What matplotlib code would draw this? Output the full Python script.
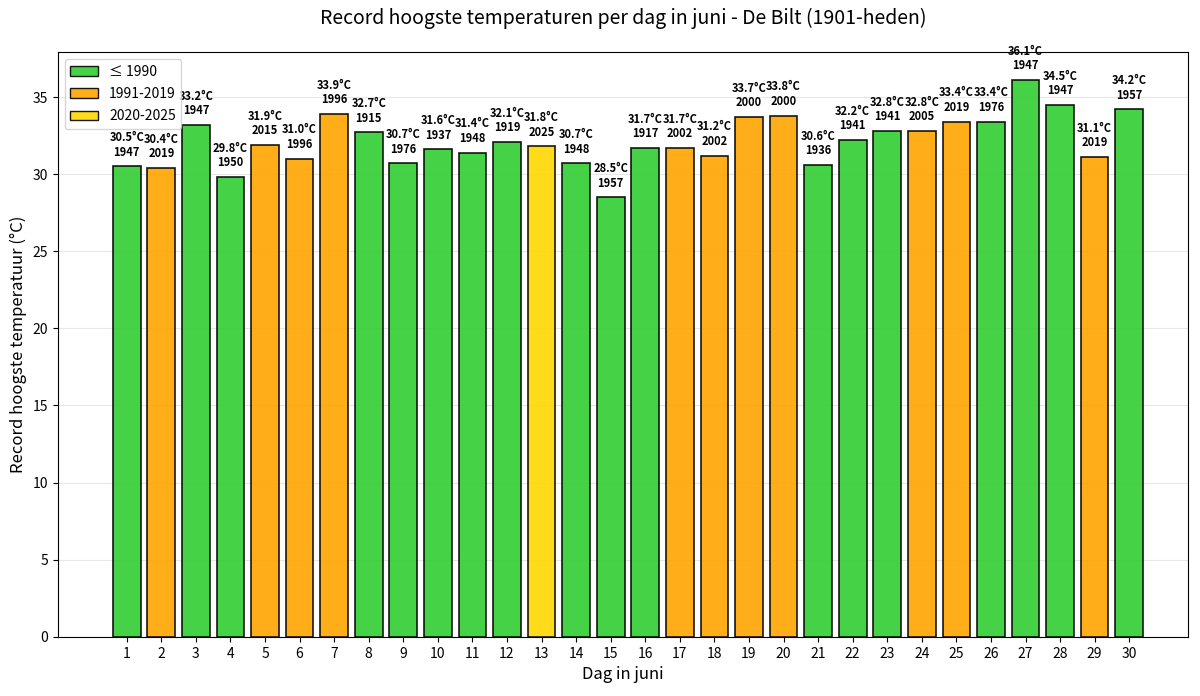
import matplotlib
matplotlib.use("Agg")
import matplotlib.pyplot as plt
from matplotlib.patches import Patch

plt.rcParams['font.family'] = ['Noto Sans CJK JP', 'DejaVu Sans']

days = list(range(1, 31))
temps = [30.5, 30.4, 33.2, 29.8, 31.9, 31.0, 33.9, 32.7, 30.7, 31.6,
         31.4, 32.1, 31.8, 30.7, 28.5, 31.7, 31.7, 31.2, 33.7, 33.8,
         30.6, 32.2, 32.8, 32.8, 33.4, 33.4, 36.1, 34.5, 31.1, 34.2]
years = [1947, 2019, 1947, 1950, 2015, 1996, 1996, 1915, 1976, 1937,
         1948, 1919, 2025, 1948, 1957, 1917, 2002, 2002, 2000, 2000,
         1936, 1941, 1941, 2005, 2019, 1976, 1947, 1947, 2019, 1957]

period_labels = ['≤ 1990', '1991-2019', '2020-2025']
period_colors = ['limegreen', 'orange', 'gold']


def color_for(year):
    if year <= 1990:
        return period_colors[0]
    if year <= 2019:
        return period_colors[1]
    return period_colors[2]


fig, ax = plt.subplots(figsize=(12, 6.96), dpi=100)
fig.subplots_adjust(left=0.048, right=0.99, bottom=0.085, top=0.925)

colors = [color_for(y) for y in years]
ax.bar(days, temps, width=0.8, color=colors, edgecolor='black',
       linewidth=1.2, alpha=0.9, zorder=3)

for d, t, y in zip(days, temps, years):
    ax.text(d, t + 0.5, f"{t:.1f}°C\n{y}", ha='center', va='bottom',
            fontsize=8, fontweight='bold', linespacing=1.15, zorder=4)

ax.set_xticks(days)
ax.set_xlim(-1, 31.7)
ax.set_ylim(0, max(temps) * 1.05)
ax.grid(axis='y', alpha=0.3, zorder=0)
ax.tick_params(labelsize=10)

ax.set_title('Record hoogste temperaturen per dag in juni - De Bilt (1901-heden)',
             fontsize=14, pad=20)
ax.set_xlabel('Dag in juni', fontsize=12)
ax.set_ylabel('Record hoogste temperatuur (°C)', fontsize=12)

handles = [Patch(facecolor=c, edgecolor='black', alpha=0.9) for c in period_colors]
leg = ax.legend(handles, period_labels, loc='upper left', fontsize=10,
                labelspacing=0.6)
leg.set_zorder(5)

fig.savefig('out.png', dpi=100)
